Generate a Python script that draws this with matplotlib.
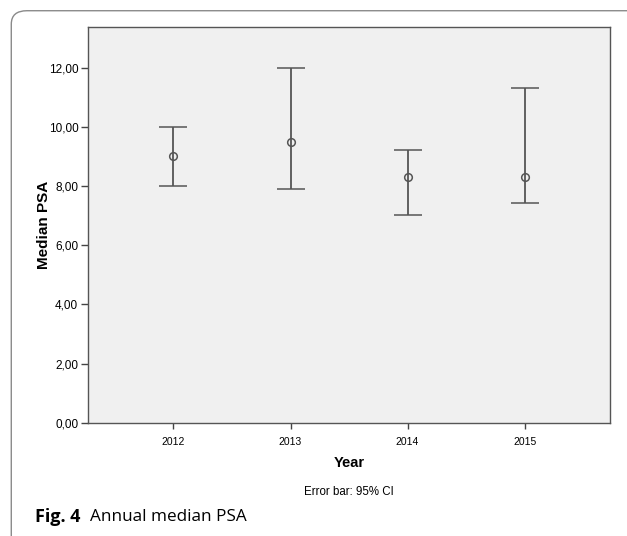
import matplotlib
matplotlib.use("Agg")
import matplotlib.pyplot as plt
from matplotlib.patches import FancyBboxPatch

years = ["2012", "2013", "2014", "2015"]
median_psa = [9.0, 9.5, 8.3, 8.3]
ci_low = [8.0, 7.9, 7.02, 7.44]
ci_high = [10.0, 12.0, 9.2, 11.3]
yticks = [0, 2, 4, 6, 8, 10, 12]

plt.rcParams["font.family"] = ["Liberation Sans", "DejaVu Sans"]

fig = plt.figure(figsize=(6.27, 5.36), dpi=100)

# rounded frame around the figure
frame = FancyBboxPatch((0.018, -0.05), 1.1, 1.03, boxstyle="round,pad=0,rounding_size=0.025",
                       transform=fig.transFigure, facecolor="none", edgecolor="#8a8a8a", linewidth=1.0)
fig.patches.append(frame)

ax = fig.add_axes([0.1404, 0.2114, 0.8325, 0.7382])
ax.set_facecolor("#f0f0f0")

x = list(range(len(years)))
lower_err = [m - l for m, l in zip(median_psa, ci_low)]
upper_err = [h - m for m, h in zip(median_psa, ci_high)]
ax.errorbar(x, median_psa, yerr=[lower_err, upper_err], fmt="o", color="#555555",
            ecolor="#555555", elinewidth=1.3, capsize=10.3, capthick=1.3,
            markersize=5.5, markerfacecolor="none", markeredgewidth=1.1)

ax.set_xlim(-0.73, 3.73)
ax.set_ylim(0, 13.37)
ax.set_xticks(x)
ax.set_xticklabels(years, fontsize=7.5)
ax.set_yticks(yticks)
ax.set_yticklabels([f"{v:.2f}".replace(".", ",") for v in yticks], fontsize=8.5)
ax.tick_params(axis="y", length=5, width=1, color="#444444", pad=2)
ax.tick_params(axis="x", length=4, width=1, color="#444444", pad=6)
for s in ax.spines.values():
    s.set_color("#555555")
    s.set_linewidth(1.0)

ax.set_ylabel("Median PSA", fontsize=11, fontweight="bold", va="center")
ax.yaxis.set_label_coords(-0.085, 0.5)
ax.set_xlabel("Year", fontsize=10.5, fontweight="bold", labelpad=7)

fig.text(0.557, 0.082, "Error bar: 95% CI", fontsize=8.3, ha="center", va="center")

cap1 = fig.text(0.056, 0.035, "Fig. 4", fontsize=13, fontweight="bold", ha="left", va="center",
                family=["Open Sans", "DejaVu Sans"])
fig.canvas.draw()
bb = cap1.get_window_extent()
fig.text((bb.x1 + 10) / fig.bbox.width, 0.035, "Annual median PSA", fontsize=12.3, ha="left",
         va="center", family=["Open Sans", "DejaVu Sans"])

fig.savefig("out.png", dpi=100)
